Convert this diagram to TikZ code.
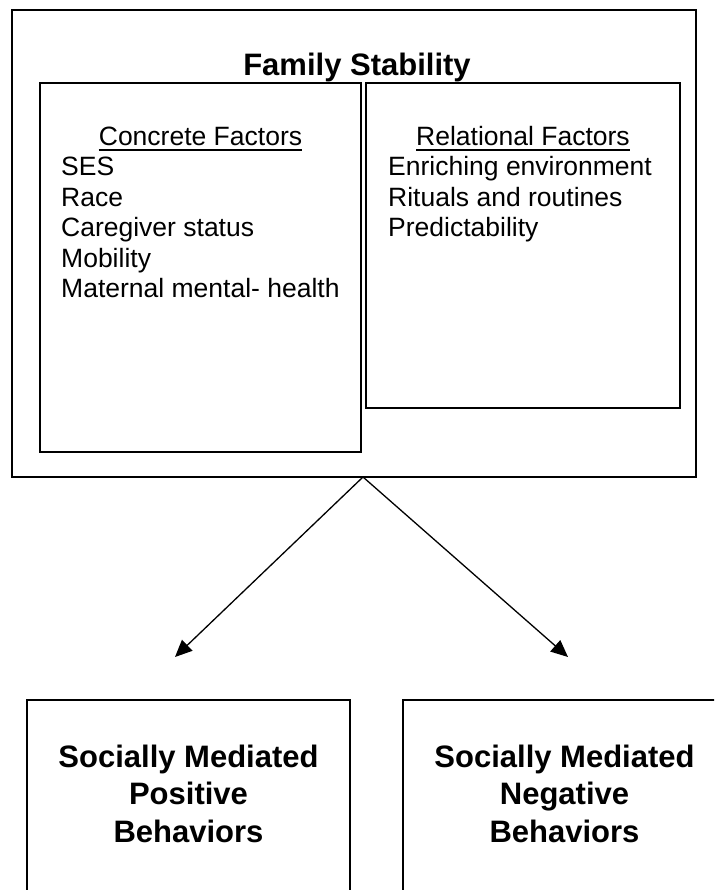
\documentclass[tikz,border=0pt]{standalone}
\usepackage{fontspec}
\setmainfont{Liberation Sans}
\usetikzlibrary{arrows.meta}
\begin{document}
\begin{tikzpicture}[x=1pt,y=-1pt,
  box/.style={draw, line width=1.6pt, inner sep=0pt, rectangle},
  body/.style={inner sep=0pt, font=\fontsize{26.5}{30.5}\selectfont, align=left},
  head/.style={inner sep=0pt, font=\fontsize{26.5}{30.5}\selectfont},
  boldtxt/.style={inner sep=0pt, font=\fontsize{31}{37.5}\selectfont\bfseries, align=center},
  uline/.style={line width=1.3pt},
  conn/.style={line width=1.3pt, -{Triangle[length=17pt,width=15pt]}}]
\clip (0,0) rectangle (714,890);
\fill[white] (0,0) rectangle (714,890);
% outer box
\node[box, minimum width=684pt, minimum height=467pt] (outer) at (354,243.5) {};
\node[boldtxt, anchor=base] (title) at (357,76) {Family Stability};
% concrete factors
\node[box, minimum width=321pt, minimum height=369pt] (cbox) at (200.5,267.5) {};
\node[head, anchor=base] (chead) at (200.5,146) {Concrete Factors};
\draw[uline] ([yshift=-4pt]chead.base west) -- ([yshift=-4pt]chead.base east);
\node[body, anchor=base west] (clist) at (61,298)
  {SES\\Race\\Caregiver status\\Mobility\\Maternal mental- health};
% relational factors
\node[box, minimum width=314pt, minimum height=325pt] (rbox) at (523,245.5) {};
\node[head, anchor=base] (rhead) at (523,146) {Relational Factors};
\draw[uline] ([yshift=-4pt]rhead.base west) -- ([yshift=-4pt]rhead.base east);
\node[body, anchor=base west] (rlist) at (388,237)
  {Enriching environment\\Rituals and routines\\Predictability};
% outcome boxes
\node[box, minimum width=323pt, minimum height=200pt] (pos) at (188.5,800) {};
\node[boldtxt, anchor=base] (postxt) at (188.5,842) {Socially Mediated\\Positive\\Behaviors};
\node[box, minimum width=323pt, minimum height=200pt] (neg) at (564.5,800) {};
\node[boldtxt, anchor=base] (negtxt) at (564.5,842) {Socially Mediated\\Negative\\Behaviors};
% connectors
\coordinate (src) at (363,477);
\coordinate (tipL) at (175,657);
\coordinate (tipR) at (568,657);
\draw[conn] (src) -- (tipL);
\draw[conn] (src) -- (tipR);
\end{tikzpicture}
\end{document}
